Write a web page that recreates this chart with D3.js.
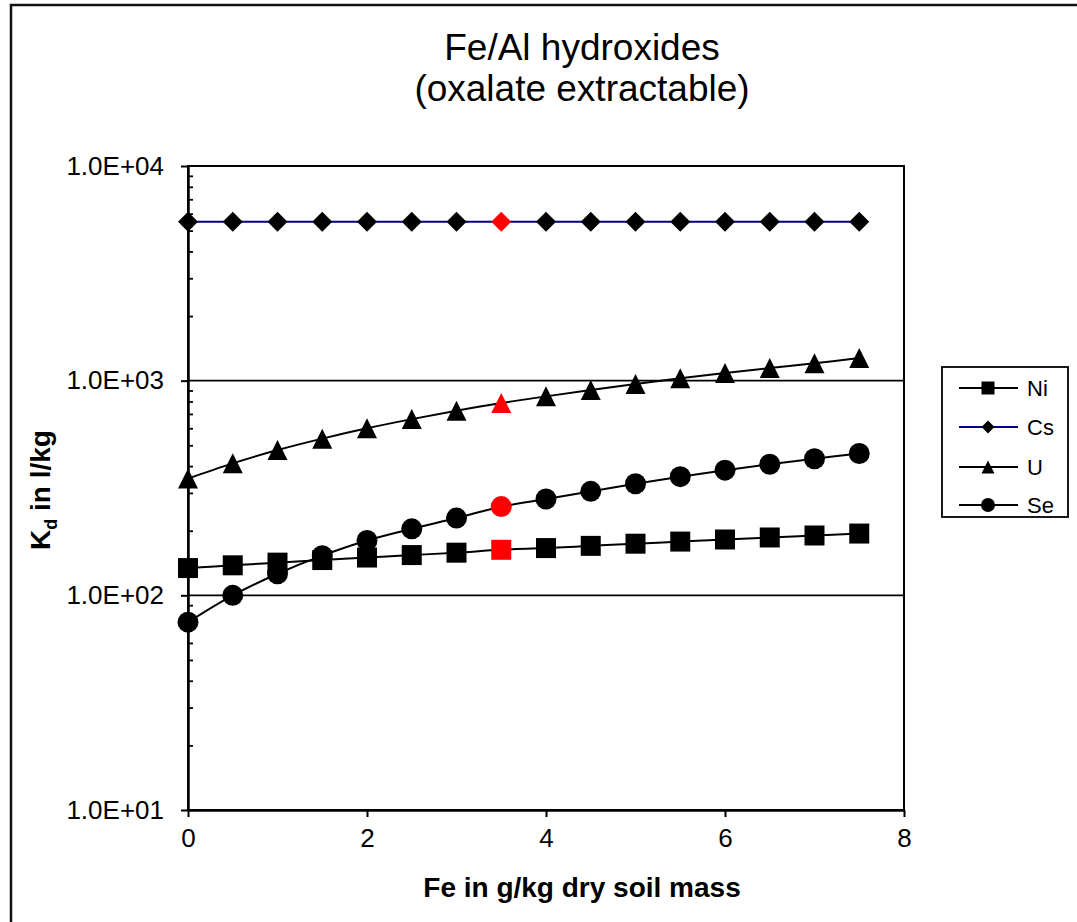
<!DOCTYPE html>
<html>
<head>
<meta charset="utf-8">
<script src="https://cdn.jsdelivr.net/npm/d3@7"></script>
<style>
    body { margin: 0; background: #fff; }
    svg text { font-family: Arial, "Liberation Sans", sans-serif; fill: #000; }
    .axis path, .axis line { stroke: #000; }
</style>
</head>
<body>
<svg id="kdChart" width="1077" height="922"></svg>
<script>
(function () {
    'use strict';

    // Fe content (g/kg dry soil mass)
    var feValues = [0, 0.5, 1, 1.5, 2, 2.5, 3, 3.5, 4, 4.5, 5, 5.5, 6, 6.5, 7, 7.5];

    // Kd values in l/kg
    var niValues = [134, 138, 142, 146, 150, 154, 158, 163, 166, 170, 174, 178, 182, 186, 190, 194];
    var csValues = [5500, 5500, 5500, 5500, 5500, 5500, 5500, 5500, 5500, 5500, 5500, 5500, 5500, 5500, 5500, 5500];
    var uValues = [350, 412, 475, 537, 600, 662, 725, 787, 845, 905, 965, 1025, 1085, 1145, 1205, 1275];
    var seValues = [75, 100, 126, 153, 180, 204, 229, 259, 281, 305, 331, 357, 383, 408, 433, 458];

    var seriesNames = ["Ni", "Cs", "U", "Se"];
    var highlightFe = 3.5;

    var xTicks = [0, 2, 4, 6, 8];
    var yTicks = [10, 100, 1000, 10000];
    var yTickLabels = ["1.0E+01", "1.0E+02", "1.0E+03", "1.0E+04"];
    var yGridValues = [100, 1000];

    var vm = {};
    vm.series = [
        {id: "Ni", values: niValues, shape: "square", color: "#000"},
        {id: "Cs", values: csValues, shape: "diamond", color: "#000080"},
        {id: "U", values: uValues, shape: "triangle", color: "#000"},
        {id: "Se", values: seValues, shape: "circle", color: "#000"}
    ];

    createSvg();
    setUpScales();
    drawFrame();
    drawGrid();
    createAxis();
    drawSeries();
    drawLegend();
    drawTitles();

    function createSvg() {
        vm.svg = d3.select("svg#kdChart");
        vm.plot = {left: 188, top: 166, right: 904, bottom: 810};
    }

    function setUpScales() {
        vm.x = d3.scaleLinear().domain([0, 8]).range([vm.plot.left, vm.plot.right]);
        vm.y = d3.scaleLog().domain([10, 10000]).range([vm.plot.bottom, vm.plot.top]);
        vm.line = d3.line()
            .curve(d3.curveCatmullRom.alpha(0.5))
            .x(function (d) { return vm.x(d.fe); })
            .y(function (d) { return vm.y(d.kd); });
    }

    function markerPath(shape, s) {
        var h = s / 2;
        if (shape === "square") {
            return "M" + (-h) + "," + (-h) + "H" + h + "V" + h + "H" + (-h) + "Z";
        }
        if (shape === "diamond") {
            return "M0," + (-h) + "L" + h + ",0L0," + h + "L" + (-h) + ",0Z";
        }
        if (shape === "triangle") {
            return "M0," + (-h) + "L" + h + "," + h + "L" + (-h) + "," + h + "Z";
        }
        return "M" + h + ",0A" + h + "," + h + " 0 1,1 " + (-h) + ",0A" + h + "," + h + " 0 1,1 " + h + ",0Z";
    }

    function drawFrame() {
        vm.svg.append("rect")
            .attr("x", 11)
            .attr("y", 5)
            .attr("width", 1100)
            .attr("height", 950)
            .attr("fill", "none")
            .attr("stroke", "#111")
            .attr("stroke-width", 2.5);

        vm.svg.append("rect")
            .attr("x", vm.plot.left)
            .attr("y", vm.plot.top)
            .attr("width", vm.plot.right - vm.plot.left)
            .attr("height", vm.plot.bottom - vm.plot.top)
            .attr("fill", "none")
            .attr("stroke", "#000")
            .attr("stroke-width", 2);
    }

    function drawGrid() {
        vm.svg.append("g")
            .attr("class", "grid")
            .selectAll("line")
            .data(yGridValues)
            .enter().append("line")
            .attr("x1", vm.plot.left)
            .attr("x2", vm.plot.right)
            .attr("y1", function (d) { return vm.y(d); })
            .attr("y2", function (d) { return vm.y(d); })
            .attr("stroke", "#000")
            .attr("stroke-width", 1.8);
    }

    function createAxis() {
        var minor = [];
        yTicks.slice(0, -1).forEach(function (dec) {
            for (var i = 2; i < 10; i++) minor.push(dec * i);
        });

        vm.svg.append("g")
            .attr("class", "axis axis--y-minor")
            .attr("transform", "translate(" + vm.plot.left + ",0)")
            .call(d3.axisRight(vm.y).tickValues(minor).tickSize(5).tickSizeOuter(0).tickFormat(""))
            .call(function (g) { g.select(".domain").remove(); })
            .selectAll("line").attr("stroke-width", 1.8);

        var yAxis = vm.svg.append("g")
            .attr("class", "axis axis--y")
            .attr("transform", "translate(" + vm.plot.left + ",0)")
            .call(d3.axisLeft(vm.y)
                .tickValues(yTicks)
                .tickSize(7)
                .tickSizeOuter(0)
                .tickPadding(17)
                .tickFormat(function (d, i) { return yTickLabels[i]; }));
        yAxis.select(".domain").attr("stroke-width", 2.5);
        yAxis.selectAll("line").attr("stroke-width", 2);
        yAxis.selectAll("text").style("font-size", "26px");

        var xAxis = vm.svg.append("g")
            .attr("class", "axis axis--x")
            .attr("transform", "translate(0," + vm.plot.bottom + ")")
            .call(d3.axisBottom(vm.x)
                .tickValues(xTicks)
                .tickSize(7)
                .tickSizeOuter(0)
                .tickPadding(12)
                .tickFormat(d3.format("d")));
        xAxis.select(".domain").attr("stroke-width", 2.5);
        xAxis.selectAll("line").attr("stroke-width", 2);
        xAxis.selectAll("text").style("font-size", "26px");
    }

    function drawSeries() {
        var sizes = {square: 20, diamond: 20, triangle: 20, circle: 21};

        var groups = vm.svg.selectAll(".series")
            .data(vm.series)
            .enter().append("g")
            .attr("class", "series");

        groups.append("path")
            .attr("class", "line")
            .attr("fill", "none")
            .attr("stroke", function (d) { return d.color; })
            .attr("stroke-width", 2)
            .attr("d", function (d) {
                return vm.line(d.values.map(function (v, i) {
                    return {fe: feValues[i], kd: v};
                }));
            });

        groups.each(function (s) {
            d3.select(this).selectAll(".marker")
                .data(s.values.map(function (v, i) { return {fe: feValues[i], kd: v}; }))
                .enter().append("path")
                .attr("class", "marker")
                .attr("transform", function (d) {
                    return "translate(" + vm.x(d.fe) + "," + vm.y(d.kd) + ")";
                })
                .attr("d", markerPath(s.shape, sizes[s.shape]))
                .attr("fill", function (d) { return d.fe === highlightFe ? "#ff0000" : "#000"; });
        });
    }

    function drawLegend() {
        var box = {x: 942, y: 367, w: 126, h: 150};
        var rowY = [388, 427, 467, 505];
        var sizes = {square: 13, diamond: 13, triangle: 13, circle: 14};

        var legend = vm.svg.append("g").attr("class", "legend");
        legend.append("rect")
            .attr("x", box.x)
            .attr("y", box.y)
            .attr("width", box.w)
            .attr("height", box.h)
            .attr("fill", "#fff")
            .attr("stroke", "#000")
            .attr("stroke-width", 1.8);

        var rows = legend.selectAll(".entry")
            .data(vm.series)
            .enter().append("g")
            .attr("class", "entry")
            .attr("transform", function (d, i) { return "translate(0," + rowY[i] + ")"; });

        rows.append("line")
            .attr("x1", 959)
            .attr("x2", 1018)
            .attr("stroke", function (d) { return d.color; })
            .attr("stroke-width", 2);

        rows.append("path")
            .attr("transform", "translate(988,0)")
            .attr("d", function (d) { return markerPath(d.shape, sizes[d.shape]); })
            .attr("fill", "#000");

        rows.append("text")
            .attr("x", 1027)
            .attr("dy", "0.36em")
            .style("font-size", "22px")
            .text(function (d, i) { return seriesNames[i]; });
    }

    function drawTitles() {
        vm.svg.append("text")
            .attr("x", 582)
            .attr("y", 60)
            .attr("text-anchor", "middle")
            .style("font-size", "37px")
            .text("Fe/Al hydroxides");

        vm.svg.append("text")
            .attr("x", 582)
            .attr("y", 101)
            .attr("text-anchor", "middle")
            .style("font-size", "37px")
            .text("(oxalate extractable)");

        vm.svg.append("text")
            .attr("x", 582)
            .attr("y", 897)
            .attr("text-anchor", "middle")
            .style("font-size", "28px")
            .style("font-weight", "bold")
            .text("Fe in g/kg dry soil mass");

        var yTitle = vm.svg.append("text")
            .attr("transform", "translate(50,490) rotate(-90)")
            .attr("text-anchor", "middle")
            .style("font-size", "28px")
            .style("font-weight", "bold");
        yTitle.append("tspan").text("K");
        yTitle.append("tspan").attr("dy", 7).style("font-size", "18px").text("d");
        yTitle.append("tspan").attr("dy", -7).text(" in l/kg");
    }

})();
</script>
</body>
</html>
